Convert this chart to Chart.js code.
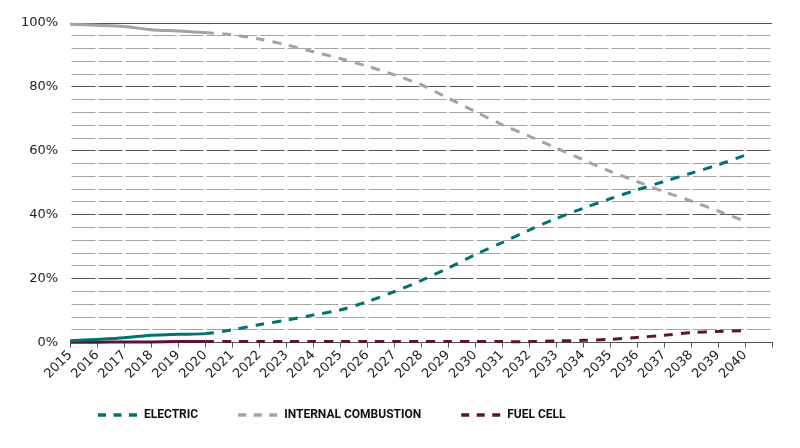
<!DOCTYPE html>
<html>
<head>
<meta charset="utf-8">
<script src="https://cdn.jsdelivr.net/npm/chart.js@4.4.1/dist/chart.umd.min.js"></script>
<style>
  html, body { margin: 0; padding: 0; background: #fff; }
  #wrap { width: 800px; height: 448px; }
</style>
</head>
<body>
<div id="wrap"><canvas id="shareChart"></canvas></div>
<script>
// anos (o ultimo rótulo vazio deixa o espaço extra no fim do eixo)
const years = ['2015', '2016', '2017', '2018', '2019', '2020', '2021', '2022', '2023', '2024',
    '2025', '2026', '2027', '2028', '2029', '2030', '2031', '2032', '2033', '2034',
    '2035', '2036', '2037', '2038', '2039', '2040', ''];

// quota (%) por tipo de motorização
const electric = [0.6, 1.0, 1.5, 2.3, 2.6, 2.8, 4.0, 5.6, 7.0, 8.6,
    10.2, 12.8, 15.9, 19.4, 23.3, 27.5, 31.3, 35.2, 38.8, 42.0,
    45.0, 47.8, 50.4, 53.0, 55.6, 58.6];
const combustion = [99.6, 99.3, 98.9, 97.9, 97.5, 97.0, 96.3, 95.0, 93.2, 91.0,
    88.9, 86.5, 83.8, 80.7, 76.5, 72.3, 68.2, 64.6, 60.9, 57.2,
    53.6, 50.4, 47.2, 44.3, 41.2, 38.0];
const fuelCell = [0.1, 0.1, 0.2, 0.2, 0.3, 0.3, 0.3, 0.3, 0.3, 0.3,
    0.3, 0.3, 0.3, 0.3, 0.3, 0.3, 0.3, 0.3, 0.5, 0.7,
    1.0, 1.6, 2.3, 3.1, 3.5, 3.7];

const yTicks = [0, 20, 40, 60, 80, 100];
const lastActual = 5; // 2020: a partir daqui é projecção (tracejado)

const seriesNames = ['ELECTRIC', 'INTERNAL COMBUSTION', 'FUEL CELL'];
const seriesColors = ['#00736f', '#a3a3a3', '#5e1239'];
const seriesData = [electric, combustion, fuelCell];

// a legenda fica à esquerda e mais acima do que o Chart.js a põe
const legendPlace = {
    id: 'legendPlace',
    afterLayout: function(chart) {
        chart.legend.left = 58;
        chart.legend.top = 369;
    }
};

document.addEventListener('DOMContentLoaded', function() {
    let ctx = document.getElementById('shareChart').getContext('2d');
    new Chart(ctx, {
        type: 'line',
        data: {
            labels: years,
            datasets: seriesData.map(function(values, i) {
                return {
                    label: seriesNames[i],
                    data: values,
                    borderColor: seriesColors[i],
                    backgroundColor: seriesColors[i],
                    borderWidth: 3,
                    borderDash: [9, 8],
                    pointRadius: 0,
                    tension: 0.3,
                    clip: false,
                    segment: {
                        borderDash: function(c) { return c.p0DataIndex < lastActual ? [] : undefined; }
                    }
                };
            })
        },
        options: {
            responsive: true,
            maintainAspectRatio: false,
            animation: false,
            layout: { padding: { left: 9, right: 28, top: 23, bottom: 4 } },
            plugins: {
                tooltip: { enabled: false },
                legend: {
                    position: 'bottom',
                    align: 'start',
                    labels: {
                        usePointStyle: true,
                        pointStyle: 'line',
                        pointStyleWidth: 40,
                        boxHeight: 13,
                        padding: 40,
                        color: '#111',
                        font: { family: "Roboto, sans-serif", size: 12, weight: 'bold' },
                        generateLabels: function(chart) {
                            // marcador tracejado na legenda
                            return Chart.defaults.plugins.legend.labels.generateLabels(chart).map(function(item) {
                                item.lineDash = [8, 7.5];
                                item.lineWidth = 3.5;
                                return item;
                            });
                        }
                    }
                }
            },
            scales: {
                x: {
                    grid: { drawOnChartArea: false, drawTicks: true, tickLength: 5, color: '#555' },
                    border: { display: true, color: '#555', width: 1 },
                    ticks: {
                        autoSkip: false,
                        maxRotation: 45,
                        minRotation: 45,
                        padding: 0,
                        color: '#222',
                        font: { family: "'DejaVu Sans', sans-serif", size: 13 }
                    }
                },
                y: {
                    min: 0,
                    max: 100,
                    grid: {
                        drawTicks: false,
                        color: function(c) { return yTicks.includes(c.tick.value) ? '#555' : '#a3a3a3'; }
                    },
                    border: {
                        display: false,
                        dash: function(c) { return c.tick && c.tick.value === 100 ? [] : [24, 3]; },
                        dashOffset: 25.5
                    },
                    ticks: {
                        stepSize: 4,
                        autoSkip: false,
                        padding: 12,
                        color: '#222',
                        font: { family: "'DejaVu Sans', sans-serif", size: 13 },
                        callback: function(value) { return yTicks.includes(value) ? value + '%' : ''; }
                    }
                }
            }
        },
        plugins: [legendPlace]
    });
});
</script>
</body>
</html>
